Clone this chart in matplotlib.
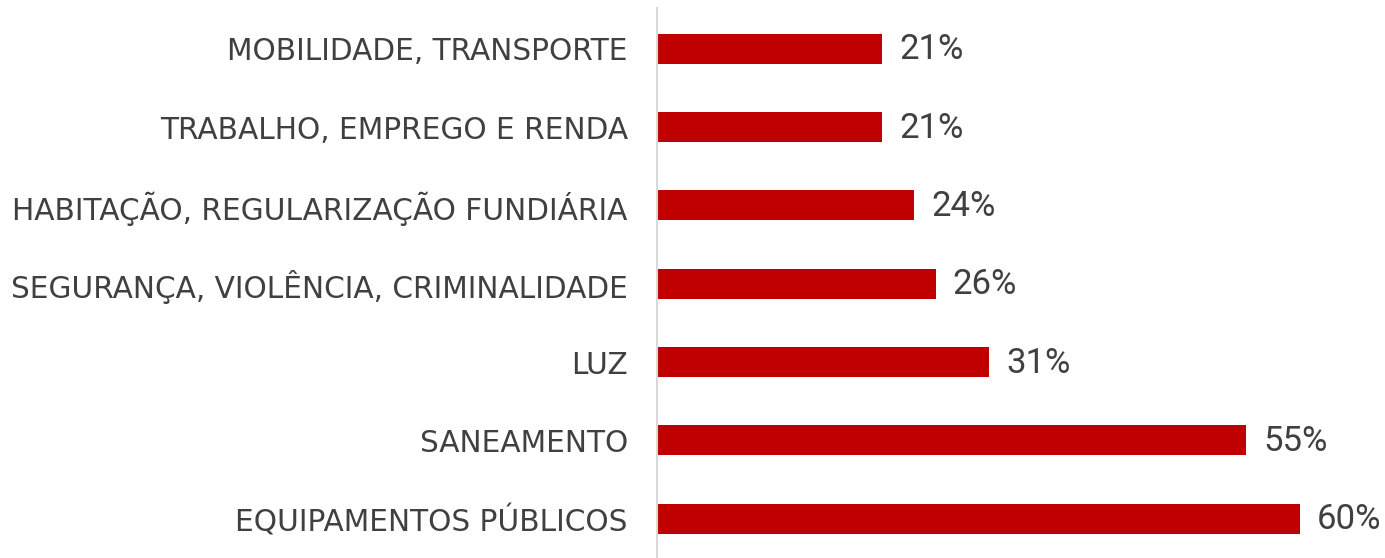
import matplotlib.pyplot as plt

categories = [
    "MOBILIDADE, TRANSPORTE",
    "TRABALHO, EMPREGO E RENDA",
    "HABITAÇÃO, REGULARIZAÇÃO FUNDIÁRIA",
    "SEGURANÇA, VIOLÊNCIA, CRIMINALIDADE",
    "LUZ",
    "SANEAMENTO",
    "EQUIPAMENTOS PÚBLICOS",
]
values = [21, 21, 24, 26, 31, 55, 60]

plt.rcParams["font.family"] = ["DejaVu Sans"]

W, H = 1385, 558
fig = plt.figure(figsize=(W / 100, H / 100), dpi=100)
ax = fig.add_axes([657 / W, 0, 718 / W, 550 / H])

pos = list(range(len(categories)))
ax.barh(pos, values, height=0.383, color="#c00000")

ax.set_xlim(0, 67)
ax.set_ylim(6.5, -0.52)
ax.set_yticks(pos)
ax.set_yticklabels(categories, fontsize=21.3, color="#404040")
ax.tick_params(axis="y", length=0, pad=21)
ax.set_xticks([])

for s in ["top", "right", "bottom"]:
    ax.spines[s].set_visible(False)
ax.spines["left"].set_color("#d9d9d9")
ax.spines["left"].set_linewidth(1.5)

# percentage labels just past the end of each bar
for p, v in zip(pos, values):
    ax.annotate(f"{v}%", (v, p), xytext=(17, -1), textcoords="offset pixels",
                va="center", ha="left", fontsize=25, color="#404040",
                family="Roboto")

fig.savefig("out.png", dpi=100)
